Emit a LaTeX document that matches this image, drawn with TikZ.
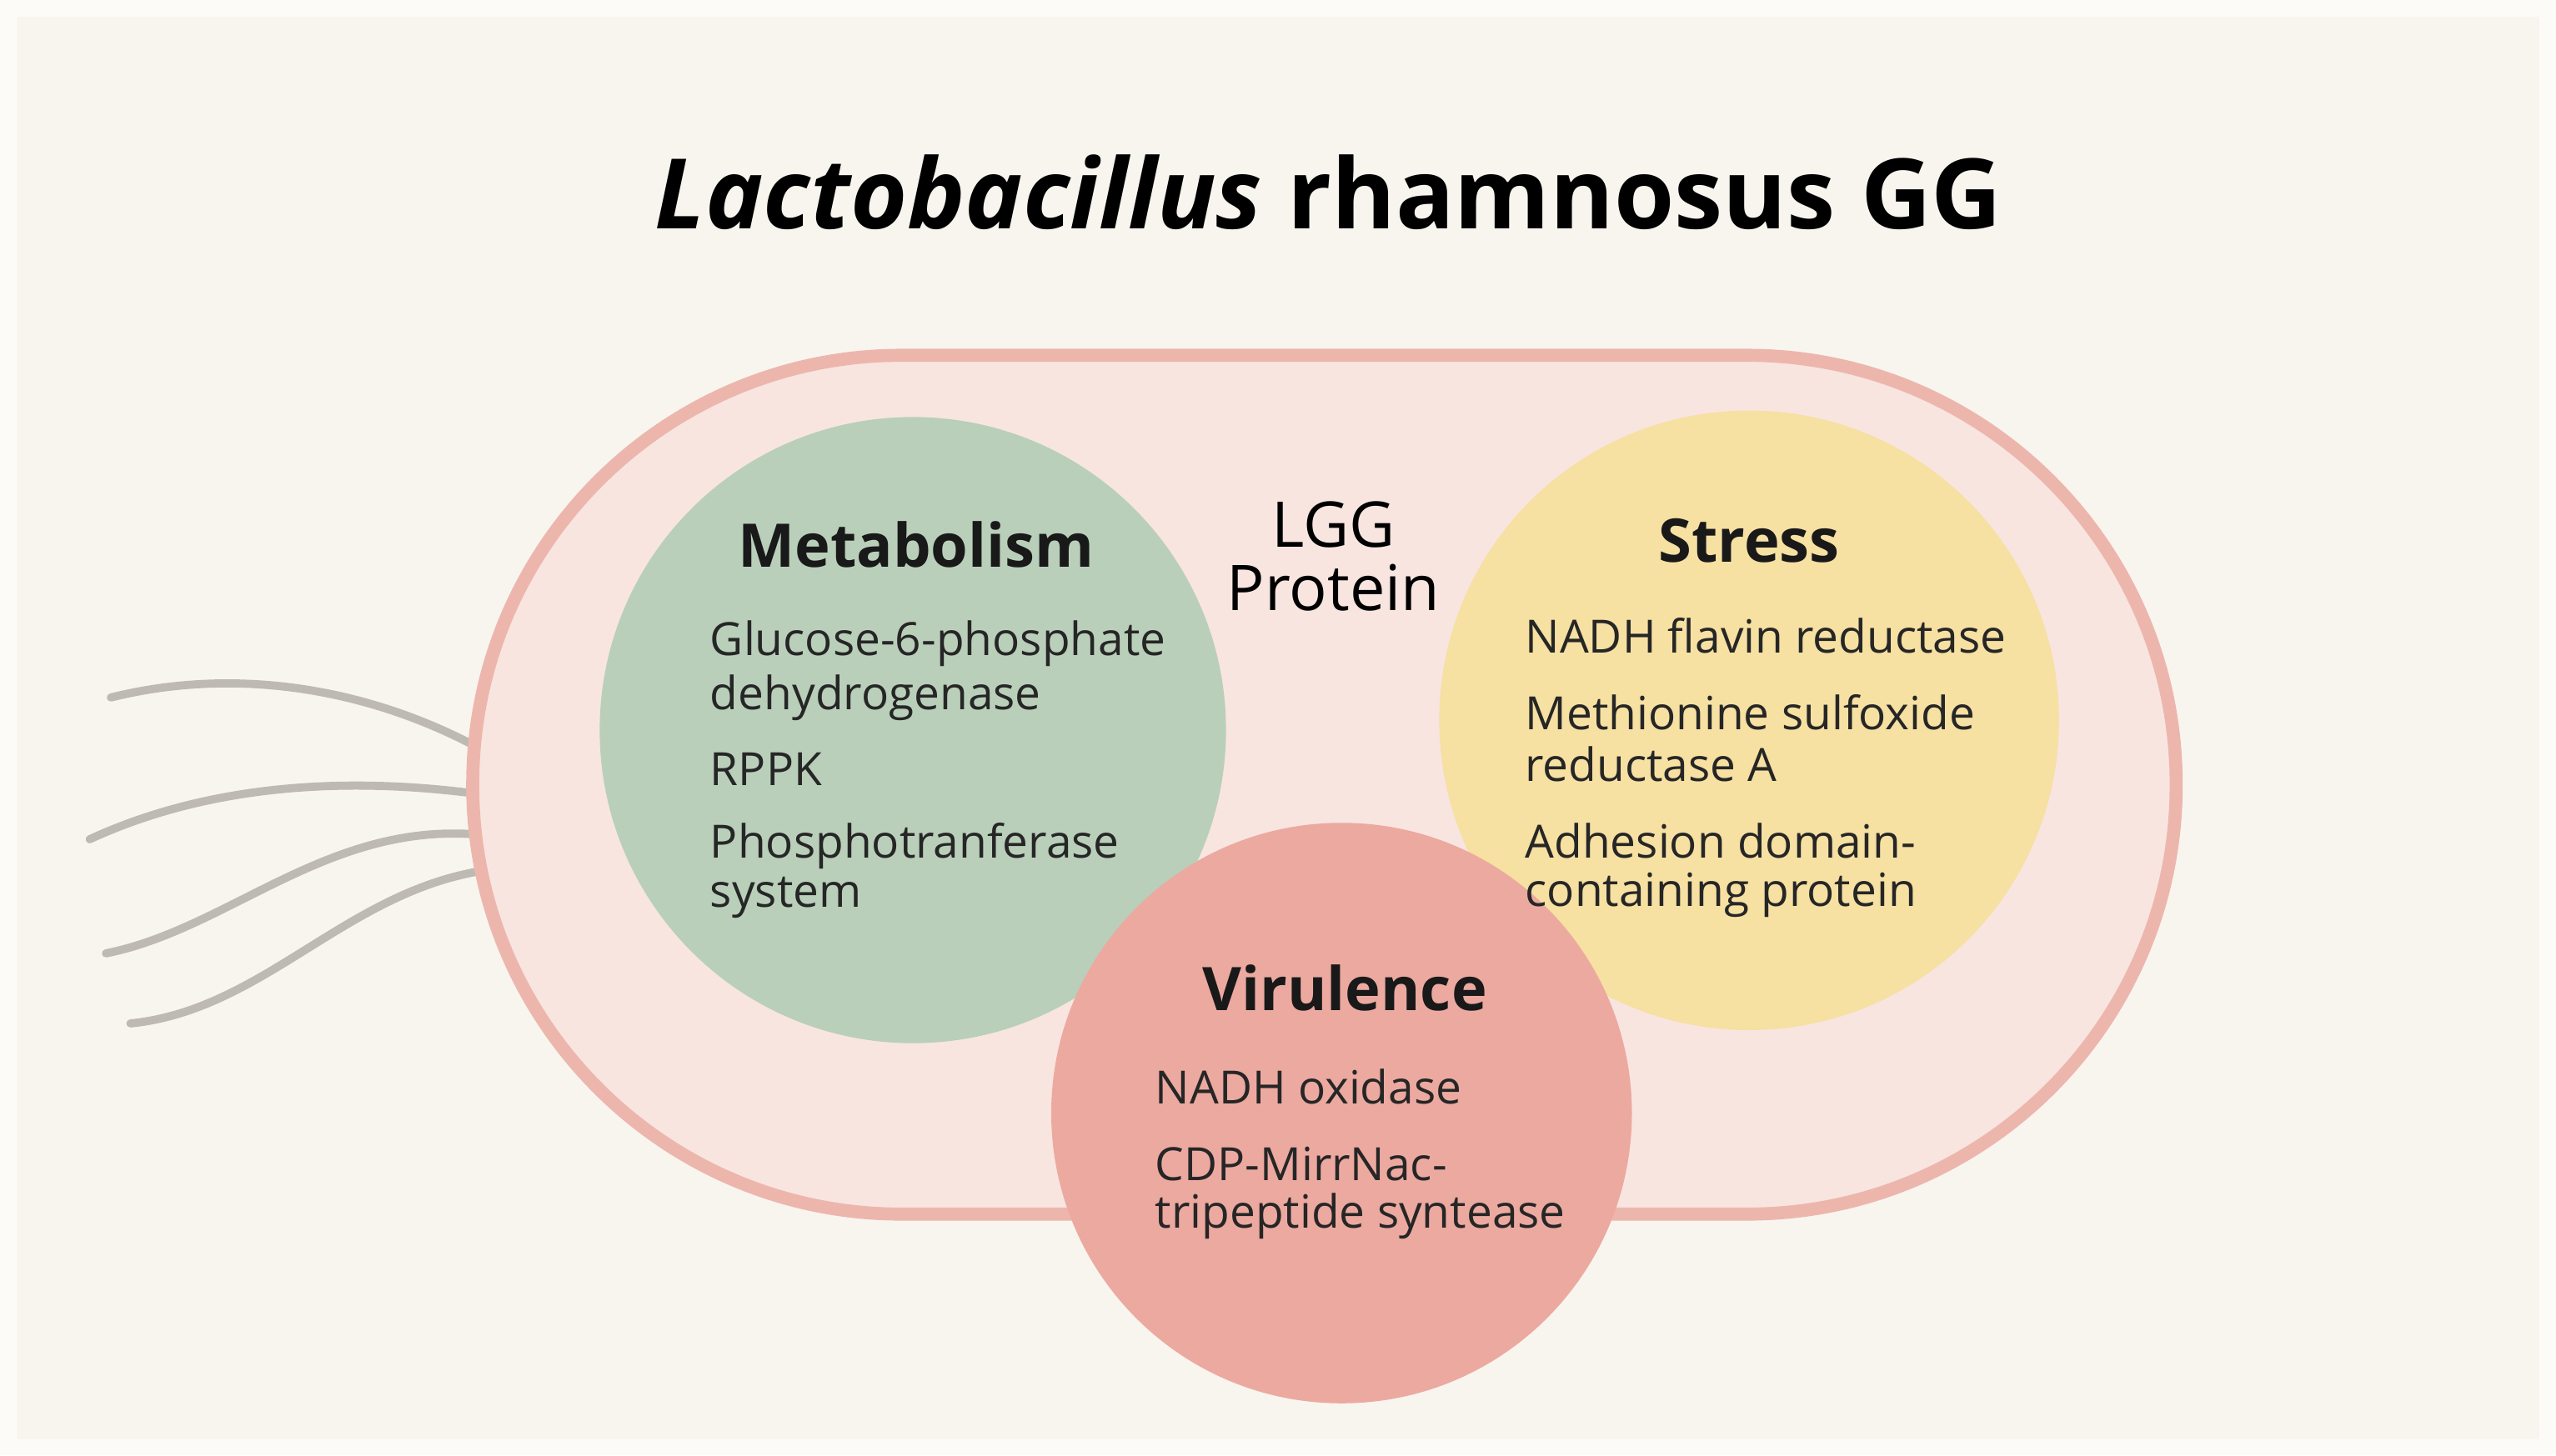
\documentclass[tikz,border=0pt]{standalone}
\usepackage{fontspec}
\setmainfont{Open Sans}
\definecolor{bgout}{HTML}{FCFBF8}
\definecolor{bg}{HTML}{F8F5EF}
\definecolor{caps}{HTML}{F8E5E0}
\definecolor{capsline}{HTML}{EDB6AD}
\definecolor{cgreen}{HTML}{B9CFBA}
\definecolor{cyellow}{HTML}{F6E0A2}
\definecolor{cred}{HTML}{ECA9A0}
\definecolor{flg}{HTML}{BEB9B3}
\begin{document}
\begin{tikzpicture}[x=0.01cm,y=-0.01cm,
  body/.style={anchor=west,inner sep=0pt,font=\fontsize{8}{10}\selectfont,text=black!85},
  head/.style={inner sep=0pt,font=\fontsize{10.5}{12}\selectfont\bfseries,text=black!90},
  flag/.style={draw=flg,line width=0.05cm,line cap=round}]
\useasboundingbox (0,0) rectangle (1568,893);
\fill[bgout] (0,0) rectangle (1568,893);
\fill[bg] (10,10) rectangle (1558,883);
\node[inner sep=0pt,font=\fontsize{17}{20}\selectfont\bfseries] (title) at (815,118) {\textit{Lactobacillus} rhamnosus GG};
% flagella
\coordinate (f1) at (292,458); \coordinate (f2) at (292,487); \coordinate (f3) at (292,512); \coordinate (f4) at (292,535);
\coordinate (e1) at (68,428); \coordinate (e2) at (55,515); \coordinate (e3) at (65,585); \coordinate (e4) at (80,628);
\draw[flag] (f1) .. controls (220,420) and (140,410) .. (e1);
\draw[flag] (f2) .. controls (200,475) and (120,485) .. (e2);
\draw[flag] (f3) .. controls (200,505) and (140,570) .. (e3);
\draw[flag] (f4) .. controls (210,550) and (160,620) .. (e4);
% capsule
\draw[draw=capsline,fill=caps,line width=0.08cm,rounded corners=2.63cm] (290,218) rectangle (1335,745);
% circles
\fill[cgreen] (560,448) circle [radius=1.92cm];
\fill[cyellow] (1073,442) circle [radius=1.9cm];
\fill[cred] (823,683) circle [radius=1.78cm];
\node[inner sep=0pt,font=\fontsize{11}{13}\selectfont] (lgg) at (818,346) {\begin{tabular}{c}LGG\\[-2pt]Protein\end{tabular}};
\node[head] (met) at (562,334) {Metabolism};
\node[body] (m1) at (435,395) {Glucose-6-phosphate};
\node[body] (m2) at (435,428) {dehydrogenase};
\node[body] (m3) at (435,472) {RPPK};
\node[body] (m4) at (435,519) {Phosphotranferase};
\node[body] (m5) at (435,551) {system};
\node[head] (str) at (1073,332) {Stress};
\node[body] (s1) at (935,390) {NADH flavin reductase};
\node[body] (s2) at (935,437) {Methionine sulfoxide};
\node[body] (s3) at (935,469) {reductase A};
\node[body] (s4) at (935,516) {Adhesion domain-};
\node[body] (s5) at (935,549) {containing protein};
\node[head] (vir) at (825,606) {Virulence};
\node[body] (v1) at (708,667) {NADH oxidase};
\node[body] (v2) at (708,714) {CDP-MirrNac-};
\node[body] (v3) at (708,746) {tripeptide syntease};
\end{tikzpicture}
\end{document}
